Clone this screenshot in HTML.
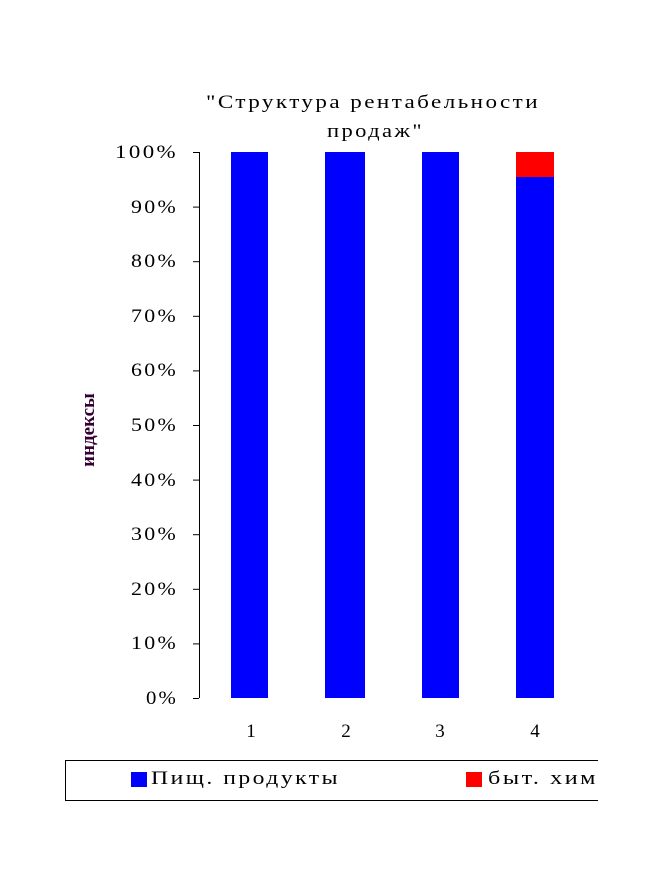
<!DOCTYPE html>
<html><head><meta charset="utf-8"><style>
body{margin:0;background:#fff;}
svg text{font-family:"Liberation Serif","DejaVu Serif",serif;}
</style></head><body>
<svg width="648" height="888" xmlns="http://www.w3.org/2000/svg">
<rect width="648" height="888" fill="#fff"/>
<text x="206" y="108" font-size="19" textLength="334" lengthAdjust="spacingAndGlyphs" letter-spacing="2">"Структура рентабельности</text>
<text x="327" y="137" font-size="19" textLength="97" lengthAdjust="spacingAndGlyphs" letter-spacing="2">продаж"</text>
<g font-size="19">
<text x="115" y="158" textLength="63" lengthAdjust="spacingAndGlyphs" letter-spacing="2">100%</text>
<text x="131" y="213" textLength="47" lengthAdjust="spacingAndGlyphs" letter-spacing="2">90%</text>
<text x="131" y="267" textLength="47" lengthAdjust="spacingAndGlyphs" letter-spacing="2">80%</text>
<text x="131" y="322" textLength="47" lengthAdjust="spacingAndGlyphs" letter-spacing="2">70%</text>
<text x="131" y="376" textLength="47" lengthAdjust="spacingAndGlyphs" letter-spacing="2">60%</text>
<text x="131" y="431" textLength="47" lengthAdjust="spacingAndGlyphs" letter-spacing="2">50%</text>
<text x="131" y="486" textLength="47" lengthAdjust="spacingAndGlyphs" letter-spacing="2">40%</text>
<text x="131" y="540" textLength="47" lengthAdjust="spacingAndGlyphs" letter-spacing="2">30%</text>
<text x="131" y="595" textLength="47" lengthAdjust="spacingAndGlyphs" letter-spacing="2">20%</text>
<text x="131" y="649" textLength="47" lengthAdjust="spacingAndGlyphs" letter-spacing="2">10%</text>
<text x="146" y="704" textLength="32" lengthAdjust="spacingAndGlyphs" letter-spacing="2">0%</text>
</g>
<g stroke="#000" stroke-width="1">
<line x1="199.5" y1="152" x2="199.5" y2="698"/>
<line x1="193" y1="152.5" x2="199" y2="152.5"/>
<line x1="193" y1="207.1" x2="199" y2="207.1"/>
<line x1="193" y1="261.7" x2="199" y2="261.7"/>
<line x1="193" y1="316.3" x2="199" y2="316.3"/>
<line x1="193" y1="370.9" x2="199" y2="370.9"/>
<line x1="193" y1="425.5" x2="199" y2="425.5"/>
<line x1="193" y1="480.1" x2="199" y2="480.1"/>
<line x1="193" y1="534.7" x2="199" y2="534.7"/>
<line x1="193" y1="589.3" x2="199" y2="589.3"/>
<line x1="193" y1="643.9" x2="199" y2="643.9"/>
<line x1="193" y1="698.5" x2="199" y2="698.5"/>
</g>
<text transform="translate(94,430) rotate(-90)" font-size="19" font-weight="bold" text-anchor="middle" fill="#330033">индексы</text>
<rect x="231" y="152" width="37" height="546" fill="#0000ff"/>
<rect x="325" y="152" width="40" height="546" fill="#0000ff"/>
<rect x="422" y="152" width="37" height="546" fill="#0000ff"/>
<rect x="516" y="177" width="38" height="521" fill="#0000ff"/>
<rect x="516" y="152" width="38" height="25" fill="#ff0000"/>
<g font-size="19" text-anchor="middle">
<text x="251" y="737">1</text>
<text x="346" y="737">2</text>
<text x="440" y="737">3</text>
<text x="535" y="737">4</text>
</g>
<path d="M598 760.5 H65.5 V800.5 H598" fill="none" stroke="#000" stroke-width="1"/>
<rect x="131" y="772" width="16" height="15" fill="#0000ff"/>
<text x="151" y="784" font-size="19" textLength="189" lengthAdjust="spacingAndGlyphs" letter-spacing="2">Пищ. продукты</text>
<rect x="466" y="772" width="16" height="15" fill="#ff0000"/>
<text x="488" y="784" font-size="19" textLength="110" lengthAdjust="spacingAndGlyphs" letter-spacing="2">быт. хим</text>
</svg>
</body></html>
